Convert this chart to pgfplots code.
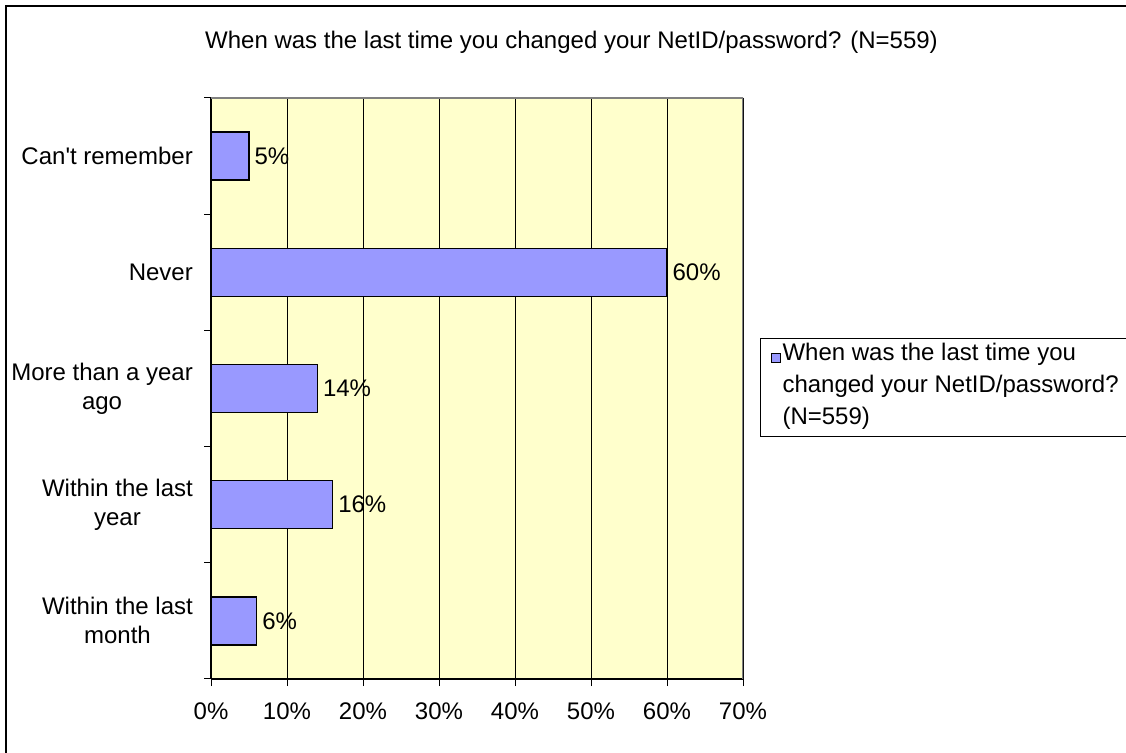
\documentclass[border=0pt]{standalone}
\usepackage{pgfplots}
\pgfplotsset{compat=1.18}
\usepackage{fontspec}
\newfontfamily\arialfont{Liberation Sans}
\definecolor{barfill}{HTML}{9999FF}
\definecolor{plotbg}{HTML}{FFFFCC}
\definecolor{framegray}{HTML}{808080}
\newcommand{\chartfont}{\arialfont\fontsize{24pt}{29pt}\selectfont}
\newcommand{\legendfont}{\arialfont\fontsize{24pt}{32pt}\selectfont}

\begin{document}
\chartfont
\begin{tikzpicture}
\useasboundingbox (0pt,0pt) rectangle (1126pt,752pt);
\fill[white] (0pt,0pt) rectangle (1126pt,752pt);
% chart frame
\draw[line width=2pt] (6pt,-5pt) -- (6pt,745.5pt) -- (1135pt,745.5pt);
% title
\node[anchor=base, font=\chartfont, inner sep=0pt] at (571.5pt,703pt)
  {When was the last time you changed your NetID/password? (N=559)};
\begin{axis}[
  at={(211pt,73pt)}, anchor=south west,
  scale only axis, width=532pt, height=581pt,
  xbar, bar width=48pt,
  xmin=0, xmax=70, ymin=-0.5, ymax=4.5,
  axis background/.style={fill=plotbg},
  axis lines*=left,
  axis line style={black, line width=1.2pt, -},
  tick align=outside,
  major tick length=7pt, minor tick length=7pt,
  tick style={black, line width=1pt},
  xtick={0,10,...,70},
  xticklabel={\pgfmathprintnumber{\tick}\%},
  /pgf/number format/assume math mode=true,
  ytick={0,1,2,3,4},
  yticklabels={{Within the last\\month},{Within the last\\year},{More than a year\\ago},Never,{Can't remember}},
  minor ytick={-0.5,0.5,...,4.5},
  major y tick style={draw=none},
  xmajorgrids,
  major x grid style={black, line width=1pt},
  ticklabel style={font=\chartfont},
  xticklabel style={inner sep=0pt, yshift=-17pt},
  yticklabel style={align=center, inner sep=0pt, xshift=-11pt},
  point meta=x,
  nodes near coords={\pgfmathprintnumber{\pgfplotspointmeta}\%},
  nodes near coords align=horizontal,
  every node near coord/.append style={font=\chartfont, black, inner xsep=5pt},
  legend style={at={(1.032,0.5869)}, anchor=north west, draw=black, line width=1pt,
    fill=white, font=\legendfont,
    inner xsep=10pt, inner ysep=4.5pt,
    nodes={inner ysep=0pt, inner xsep=2pt, text depth=},
    cells={anchor=base west}},
  legend image code/.code={\draw[fill=barfill, draw=black, line width=1pt] (0pt,-2pt) rectangle (9pt,7pt);},
]
\addplot[fill=barfill, draw=black, line width=1.3pt]
  coordinates {(6,0) (16,1) (14,2) (60,3) (5,4)};
\addlegendentry{\parbox[t]{380pt}{When was the last time you\\changed your NetID/password?\\(N=559)\rule[-7.5pt]{0pt}{0pt}}}
\draw[framegray, line width=1.5pt] (rel axis cs:0,1) -- (rel axis cs:1,1) -- (rel axis cs:1,0);
\end{axis}
\end{tikzpicture}
\end{document}
